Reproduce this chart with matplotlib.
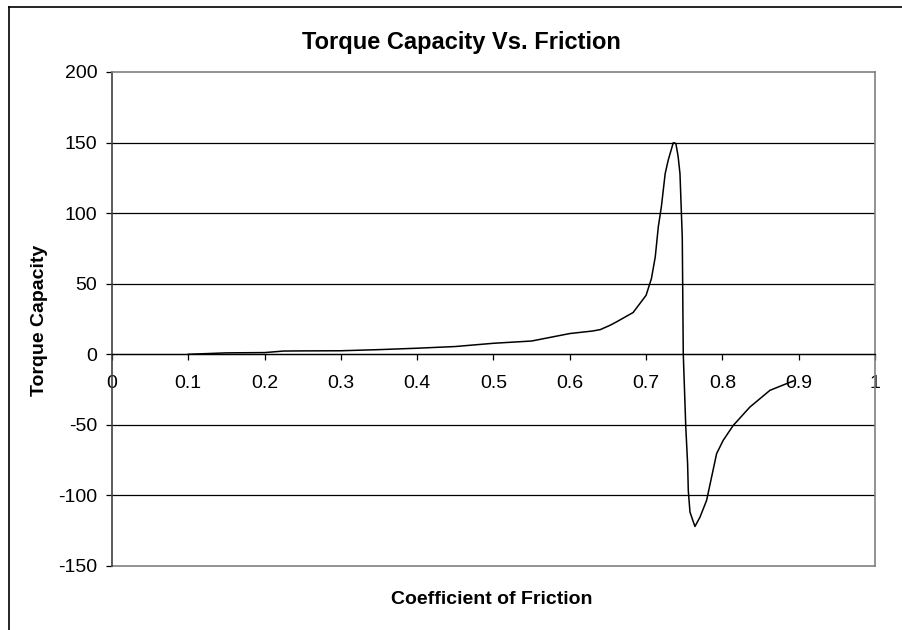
import matplotlib
matplotlib.use("Agg")
import matplotlib.pyplot as plt
from matplotlib.lines import Line2D

plt.rcParams["font.family"] = ["Liberation Sans", "DejaVu Sans"]
plt.rcParams["axes.unicode_minus"] = False

# 曲线数据
friction = [0.10, 0.15, 0.20, 0.225, 0.25, 0.30, 0.35, 0.40, 0.45, 0.50,
            0.55, 0.60, 0.63, 0.64, 0.653, 0.661, 0.683, 0.700, 0.707, 0.712,
            0.716, 0.720, 0.725, 0.729, 0.7356, 0.739, 0.742, 0.7444, 0.7474,
            0.7487, 0.752, 0.7544, 0.7553, 0.7575, 0.764, 0.7706, 0.7793,
            0.7924, 0.801, 0.8142, 0.836, 0.8624, 0.893]
torque = [0.0, 1.0, 1.2, 2.3, 2.4, 2.5, 3.3, 4.3, 5.5, 7.8,
          9.4, 14.7, 16.5, 17.5, 20.6, 22.9, 29.6, 41.8, 53.7, 69.0,
          90.3, 104.5, 128.0, 137.6, 149.9, 149.4, 140.0, 128.0, 83.0,
          0.5, -51.5, -77.5, -96.5, -111.8, -122.0, -115.4, -103.5,
          -70.4, -61.0, -50.4, -37.4, -25.5, -18.9]

x_ticks = [0, 0.1, 0.2, 0.3, 0.4, 0.5, 0.6, 0.7, 0.8, 0.9, 1]
x_labels = ["0", "0.1", "0.2", "0.3", "0.4", "0.5", "0.6", "0.7", "0.8", "0.9", "1"]
y_ticks = [-150, -100, -50, 0, 50, 100, 150, 200]

fig = plt.figure(figsize=(9.03, 6.30), dpi=100)
ax = fig.add_axes([112 / 903, 1 - 566 / 630, 763 / 903, 494 / 630])

ax.plot(friction, torque, color="black", linewidth=1.1)

ax.set_xlim(0, 1)
ax.set_ylim(-150, 200)
ax.set_xticks(x_ticks)
ax.set_xticklabels(x_labels)
ax.set_yticks(y_ticks)

# 网格线
for v in y_ticks[1:-1]:
    ax.axhline(v, color="black", linewidth=0.9, zorder=0)

# 坐标轴样式（Excel 风格）
ax.spines["bottom"].set_position(("data", 0))
ax.spines["bottom"].set_color("black")
ax.spines["bottom"].set_linewidth(0.9)
ax.spines["left"].set_color("#404040")
ax.spines["left"].set_linewidth(1.2)
for s in ["top", "right"]:
    ax.spines[s].set_color("#808080")
    ax.spines[s].set_linewidth(1.2)
ax.add_line(Line2D([0, 1], [0, 0], transform=ax.transAxes, color="#808080",
                   linewidth=1.2, clip_on=False))

ax.tick_params(axis="x", direction="out", length=4, width=0.9, pad=11,
               labelsize=14, color="black")
ax.tick_params(axis="y", direction="out", length=4.5, width=0.9, pad=6,
               labelsize=14, color="black")

fig.text(461 / 903, 1 - 42 / 630, "Torque Capacity Vs. Friction", ha="center",
         va="center", fontsize=17, fontweight="bold")
fig.text(492 / 903, 1 - 600 / 630, "Coefficient of Friction", ha="center",
         va="center", fontsize=14, fontweight="bold")
fig.text(40 / 903, 1 - 320 / 630, "Torque Capacity", ha="center", va="center",
         rotation=90, fontsize=14, fontweight="bold")

# 外框（只露出左边和上边）
fig.add_artist(Line2D([9 / 903, 9 / 903], [0, 1 - 7 / 630],
                      transform=fig.transFigure, color="black", linewidth=1.2))
fig.add_artist(Line2D([9 / 903, 1], [1 - 7 / 630, 1 - 7 / 630],
                      transform=fig.transFigure, color="black", linewidth=1.2))

fig.savefig("out.png", dpi=100)
